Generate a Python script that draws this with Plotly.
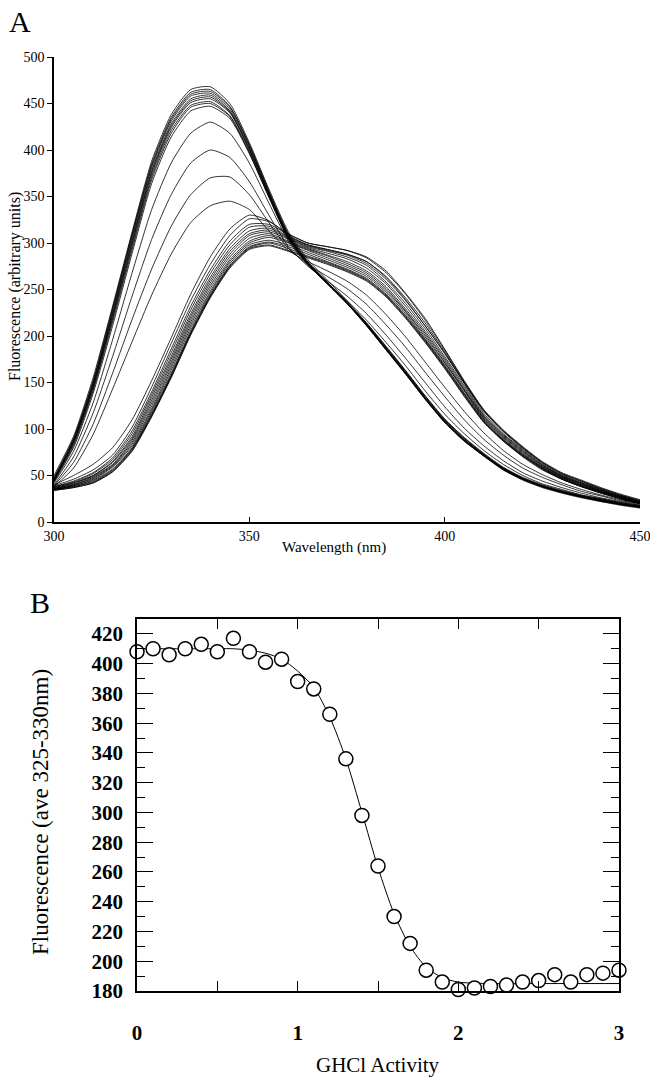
import plotly.graph_objects as go

# ---------------- Panel A data: emission spectra ----------------
wavelength = [300, 305, 310, 315, 320, 325, 330, 335, 340, 345, 350, 355, 360, 365, 370,
              375, 380, 385, 390, 395, 400, 405, 410, 415, 420, 425, 430, 435, 440, 445, 450]

spec_n01 = [50, 92, 155, 232, 312, 388, 438, 465, 468, 450, 408, 358, 312, 282, 260, 238, 214, 188, 162, 135, 110, 90, 73, 58, 47, 39, 33, 28, 24, 20, 17]
spec_n02 = [48, 90, 152, 230, 310, 385, 435, 462, 465, 447, 406, 356, 310, 280, 258, 236, 212, 186, 160, 133, 108, 88, 72, 57, 46, 38, 32, 27, 23, 19, 16]
spec_n03 = [47, 89, 150, 228, 308, 383, 433, 460, 463, 446, 405, 355, 309, 279, 257, 235, 211, 185, 159, 132, 107, 87, 71, 56, 46, 38, 32, 27, 22, 19, 16]
spec_n04 = [46, 88, 149, 226, 306, 381, 431, 458, 461, 444, 404, 354, 308, 279, 257, 236, 212, 186, 160, 133, 108, 88, 71, 57, 46, 38, 32, 27, 23, 19, 16]
spec_n05 = [45, 87, 147, 224, 303, 378, 428, 455, 459, 442, 402, 353, 307, 278, 256, 235, 211, 185, 159, 132, 107, 87, 71, 56, 45, 37, 31, 26, 22, 18, 15]
spec_n06 = [46, 86, 146, 222, 301, 376, 426, 453, 457, 441, 401, 352, 307, 278, 257, 236, 213, 187, 161, 134, 109, 89, 72, 58, 47, 39, 33, 28, 24, 20, 17]
spec_n07 = [44, 85, 145, 220, 299, 374, 424, 451, 455, 440, 400, 352, 306, 278, 256, 235, 212, 186, 160, 133, 108, 88, 72, 57, 46, 38, 32, 27, 23, 19, 16]
spec_n08 = [45, 84, 143, 218, 296, 371, 421, 448, 452, 437, 398, 350, 305, 277, 256, 236, 213, 188, 162, 135, 110, 90, 73, 58, 47, 39, 33, 28, 24, 20, 17]
spec_n09 = [44, 82, 141, 215, 293, 368, 418, 446, 450, 436, 397, 350, 305, 277, 256, 235, 212, 186, 160, 133, 108, 88, 72, 57, 46, 38, 32, 27, 23, 19, 16]
spec_n10 = [43, 80, 138, 211, 289, 364, 414, 442, 447, 434, 396, 349, 304, 277, 257, 236, 214, 189, 163, 136, 111, 91, 74, 59, 48, 40, 34, 29, 25, 21, 18]

spec_t01 = [42, 76, 128, 196, 268, 336, 386, 418, 430, 418, 386, 343, 302, 276, 257, 238, 217, 193, 168, 141, 116, 95, 77, 62, 50, 41, 35, 29, 25, 21, 18]
spec_t02 = [40, 70, 117, 178, 243, 304, 352, 386, 400, 392, 366, 330, 296, 275, 259, 243, 224, 201, 176, 150, 124, 101, 82, 66, 53, 44, 37, 31, 26, 22, 19]
spec_t03 = [39, 64, 105, 160, 218, 272, 318, 352, 370, 371, 352, 322, 294, 277, 264, 251, 234, 212, 188, 161, 135, 110, 89, 72, 58, 48, 40, 33, 28, 23, 20]
spec_t04 = [38, 58, 94, 143, 194, 244, 288, 322, 340, 345, 336, 313, 292, 280, 270, 259, 244, 223, 199, 172, 145, 119, 96, 77, 62, 51, 42, 35, 29, 24, 20]

spec_d01 = [40, 50, 62, 80, 110, 152, 198, 245, 285, 315, 330, 324, 308, 298, 293, 288, 280, 263, 239, 211, 182, 150, 120, 98, 80, 64, 52, 44, 36, 29, 23]
spec_d02 = [39, 46, 56, 72, 102, 145, 192, 238, 277, 308, 326, 323, 310, 300, 296, 292, 285, 270, 246, 219, 186, 152, 121, 99, 81, 65, 53, 45, 37, 30, 24]
spec_d03 = [38, 44, 53, 69, 98, 140, 186, 232, 271, 302, 320, 320, 309, 300, 296, 292, 284, 268, 245, 217, 185, 151, 120, 98, 80, 64, 52, 44, 36, 29, 23]
spec_d04 = [38, 43, 52, 67, 95, 137, 182, 228, 267, 298, 317, 318, 307, 298, 293, 288, 280, 264, 241, 214, 183, 150, 119, 97, 79, 63, 51, 43, 35, 28, 22]
spec_d05 = [37, 42, 50, 65, 92, 134, 178, 224, 263, 294, 313, 316, 306, 297, 292, 287, 278, 261, 238, 211, 181, 149, 117, 95, 78, 62, 50, 42, 35, 28, 22]
spec_d06 = [37, 42, 50, 64, 90, 131, 175, 221, 260, 291, 310, 314, 305, 296, 291, 285, 276, 258, 235, 208, 178, 147, 115, 94, 77, 61, 50, 42, 34, 28, 22]
spec_d07 = [36, 41, 49, 62, 88, 128, 172, 218, 257, 288, 308, 312, 304, 295, 289, 283, 273, 256, 232, 205, 176, 145, 114, 93, 76, 61, 49, 41, 34, 27, 21]
spec_d08 = [36, 40, 48, 61, 86, 125, 169, 215, 254, 285, 305, 310, 302, 294, 287, 280, 270, 253, 229, 203, 174, 143, 113, 92, 75, 60, 49, 41, 33, 27, 21]
spec_d09 = [36, 40, 47, 60, 84, 122, 166, 212, 251, 282, 302, 308, 301, 293, 286, 278, 268, 251, 227, 201, 172, 142, 112, 91, 74, 59, 48, 40, 33, 27, 21]
spec_d10 = [35, 39, 46, 59, 82, 120, 163, 209, 248, 280, 300, 306, 300, 292, 284, 276, 266, 249, 226, 199, 171, 141, 111, 90, 73, 59, 48, 40, 33, 26, 21]
spec_d11 = [35, 39, 45, 57, 80, 118, 160, 206, 246, 278, 298, 303, 298, 290, 282, 274, 264, 247, 224, 197, 169, 139, 110, 89, 72, 58, 47, 39, 32, 26, 20]
spec_d12 = [35, 38, 44, 56, 79, 116, 158, 204, 244, 276, 296, 301, 296, 288, 280, 272, 262, 245, 222, 196, 168, 138, 109, 88, 72, 58, 47, 39, 32, 26, 20]
spec_d13 = [35, 38, 43, 55, 78, 115, 157, 203, 243, 275, 295, 300, 294, 286, 279, 271, 261, 244, 221, 195, 167, 137, 108, 88, 71, 57, 46, 38, 32, 25, 20]
spec_d14 = [34, 37, 42, 54, 77, 114, 156, 202, 242, 274, 294, 298, 292, 285, 278, 270, 260, 243, 220, 194, 166, 136, 108, 87, 71, 57, 46, 38, 31, 25, 20]
spec_d15 = [34, 37, 42, 54, 76, 113, 155, 201, 241, 273, 293, 297, 291, 284, 277, 269, 259, 242, 219, 193, 165, 135, 107, 87, 70, 56, 46, 38, 31, 25, 20]

spectra = [spec_n01, spec_n02, spec_n03, spec_n04, spec_n05, spec_n06, spec_n07, spec_n08,
           spec_n09, spec_n10, spec_t01, spec_t02, spec_t03, spec_t04,
           spec_d01, spec_d02, spec_d03, spec_d04, spec_d05, spec_d06, spec_d07, spec_d08,
           spec_d09, spec_d10, spec_d11, spec_d12, spec_d13, spec_d14, spec_d15]

# ---------------- Panel B data: titration ----------------
ghcl_activity = [0.0, 0.1, 0.2, 0.3, 0.4, 0.5, 0.6, 0.7, 0.8, 0.9, 1.0, 1.1, 1.2, 1.3, 1.4, 1.5,
                 1.6, 1.7, 1.8, 1.9, 2.0, 2.1, 2.2, 2.3, 2.4, 2.5, 2.6, 2.7, 2.8, 2.9, 3.0]
fluor_avg = [408, 410, 406, 410, 413, 408, 417, 408, 401, 403, 388, 383, 366, 336, 298, 264,
             230, 212, 194, 186, 181, 182, 183, 184, 186, 187, 191, 186, 191, 192, 194]
fit_x = [0.0, 0.2, 0.4, 0.6, 0.7, 0.8, 0.9, 1.0, 1.1, 1.2, 1.3, 1.4, 1.5, 1.6, 1.7, 1.8,
         1.9, 2.0, 2.2, 2.5, 3.0]
fit_y = [410, 410, 410, 410, 409, 407, 403, 395, 384, 364, 336, 300, 263, 232, 210, 196,
         189, 186, 185, 185, 185]

xtick_vals_b = [0, 0.5, 1, 1.5, 2, 2.5, 3]
xtick_text_b = ["0", "", "1", "", "2", "", "3"]
ytick_vals_b = [180, 200, 220, 240, 260, 280, 300, 320, 340, 360, 380, 400, 420]

FONT = "Liberation Serif"
W, H = 650, 1079

fig = go.Figure()

for s in spectra:
    fig.add_trace(go.Scatter(x=wavelength, y=s, mode="lines", xaxis="x", yaxis="y",
                             line=dict(color="black", width=0.8, shape="spline", smoothing=0.6),
                             hoverinfo="skip", showlegend=False))

fig.add_trace(go.Scatter(x=fit_x, y=fit_y, mode="lines", xaxis="x2", yaxis="y2",
                         line=dict(color="black", width=1, shape="spline", smoothing=0.8),
                         showlegend=False, cliponaxis=False))
fig.add_trace(go.Scatter(x=ghcl_activity, y=fluor_avg, mode="markers", xaxis="x2", yaxis="y2",
                         marker=dict(symbol="circle", size=14, color="white",
                                     line=dict(color="black", width=1.5)),
                         showlegend=False, cliponaxis=False))


def px(x):
    return x / W


def py(y):
    return 1 - y / H


fig.update_layout(
    width=W, height=H,
    margin=dict(l=0, r=0, t=0, b=0, autoexpand=False),
    paper_bgcolor="white", plot_bgcolor="white",
    font=dict(family=FONT, color="black"),
    xaxis=dict(domain=[px(54), px(640)], anchor="y", range=[300, 450], automargin=False,
               tickvals=[300, 350, 400, 450], ticks="inside", ticklen=5, tickwidth=1,
               tickcolor="black", showline=True, linecolor="black", linewidth=1.6,
               ticklabeloverflow="allow",
               showgrid=False, zeroline=False, tickfont=dict(size=14, family=FONT)),
    yaxis=dict(domain=[py(522), py(57)], anchor="x", range=[0, 500], dtick=50,
               automargin=False,
               ticks="outside", ticklen=5, tickwidth=1, tickcolor="black",
               showline=True, linecolor="black", linewidth=1.6,
               showgrid=False, zeroline=False, tickfont=dict(size=14, family=FONT)),
    xaxis2=dict(domain=[px(137), px(619)], anchor="y2", range=[0, 3], automargin=False,
                tickvals=xtick_vals_b, ticktext=xtick_text_b, ticks="inside", ticklen=10,
                tickwidth=1.3, tickcolor="black", showline=True, linecolor="black",
                linewidth=1.8, mirror="ticks", showgrid=False, zeroline=False,
                ticklabelstandoff=22,
                tickfont=dict(size=21, family=FONT, weight="bold")),
    yaxis2=dict(domain=[py(991), py(619)], anchor="x2", range=[180, 430], automargin=False,
                tickvals=ytick_vals_b,
                ticks="inside", ticklen=16, tickwidth=1.3, tickcolor="black",
                minor=dict(dtick=10, ticks="inside", ticklen=8, tickwidth=1.3, tickcolor="black"),
                showline=True, linecolor="black", linewidth=1.8, mirror="ticks",
                showgrid=False, zeroline=False, ticklabelstandoff=8,
                tickfont=dict(size=21, family=FONT, weight="bold")),
    annotations=[
        dict(text="A", x=px(20), y=py(22), xref="paper", yref="paper", showarrow=False,
             xanchor="center", yanchor="middle", font=dict(size=30, family=FONT)),
        dict(text="Fluorescence (arbitrary units)", x=px(15), y=py(287), xref="paper",
             yref="paper", showarrow=False, textangle=-90, xanchor="center",
             yanchor="middle", font=dict(size=16, family=FONT)),
        dict(text="Wavelength (nm)", x=px(334), y=py(547), xref="paper", yref="paper",
             showarrow=False, xanchor="center", yanchor="middle",
             font=dict(size=15, family=FONT)),
        dict(text="B", x=px(40), y=py(603), xref="paper", yref="paper", showarrow=False,
             xanchor="center", yanchor="middle", font=dict(size=30, family=FONT)),
        dict(text="Fluorescence (ave 325-330nm)", x=px(40), y=py(812), xref="paper",
             yref="paper", showarrow=False, textangle=-90, xanchor="center",
             yanchor="middle", font=dict(size=23, family=FONT)),
        dict(text="GHCl Activity", x=px(378), y=py(1065), xref="paper", yref="paper",
             showarrow=False, xanchor="center", yanchor="middle",
             font=dict(size=21, family=FONT)),
    ],
)

fig.write_html("out.html", config={"displayModeBar": False},
               post_script="document.body.style.margin='0';document.body.style.overflow='hidden';")
